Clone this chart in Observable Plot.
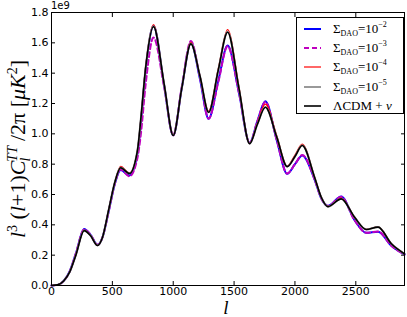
<!DOCTYPE html>
<html><head><meta charset="utf-8">
<script src="https://cdn.jsdelivr.net/npm/d3@7"></script>
<script src="https://cdn.jsdelivr.net/npm/@observablehq/plot@0.6"></script>
<style>
body{margin:0;background:#fff;}
#wrap{position:relative;width:407px;height:317px;overflow:hidden;background:#fff;}
.math{font-family:"Liberation Serif",serif;color:#000;white-space:nowrap;}
.legend{position:absolute;left:296px;top:17px;width:108px;height:97px;border:1px solid #000;background:#fff;box-sizing:border-box;}
.entry{position:absolute;left:0;height:18px;width:106px;}
.entry svg{position:absolute;left:7px;top:0;}
.entry .lab{position:absolute;left:36px;top:1px;font-size:13px;line-height:16px;}
.sb{font-size:8px;position:relative;top:3px;}
.sp{font-size:8px;position:relative;top:-6px;}
.ylab{position:absolute;left:-112px;top:138px;width:260px;height:22px;text-align:center;transform:rotate(-90deg);font-size:22px;line-height:22px;}
.ylab sup,.ylab sub{font-size:14px;line-height:0;}
.xlab{position:absolute;left:216px;top:301px;width:20px;height:14px;text-align:center;font-size:19px;line-height:14px;font-style:italic;}
.off{position:absolute;left:51px;top:0px;font-family:"DejaVu Sans",sans-serif;font-size:10px;}
</style></head><body><div id="wrap"></div>
<script>
// multipole knots
const ell = [0, 50, 100, 150, 200, 268, 320, 378, 420, 470, 520, 568, 640, 706, 733, 774, 838, 925, 1000, 1070, 1145, 1220, 1291, 1370, 1447, 1540, 1628, 1690, 1757, 1850, 1936, 2000, 2060, 2161, 2216, 2271, 2380, 2490, 2586, 2683, 2792, 2900];
// values in units of 1e9
const sigmaE2 = [0, 0.004, 0.03, 0.095, 0.21, 0.372, 0.335, 0.268, 0.32, 0.49, 0.67, 0.762, 0.726, 0.87, 1.06, 1.42, 1.712, 1.32, 0.99, 1.30, 1.600, 1.36, 1.099, 1.35, 1.582, 1.27, 0.94, 1.08, 1.215, 0.96, 0.736, 0.80, 0.857, 0.70, 0.575, 0.525, 0.587, 0.43, 0.347, 0.355, 0.262, 0.205];
const sigmaE3 = [0, 0.004, 0.03, 0.093, 0.21, 0.37, 0.335, 0.268, 0.32, 0.49, 0.67, 0.765, 0.72, 0.84, 0.99, 1.33, 1.635, 1.31, 0.99, 1.31, 1.612, 1.37, 1.10, 1.34, 1.578, 1.27, 0.94, 1.08, 1.21, 0.96, 0.738, 0.80, 0.86, 0.70, 0.575, 0.525, 0.585, 0.43, 0.348, 0.356, 0.262, 0.205];
const sigmaE4 = [0, 0.004, 0.03, 0.09, 0.205, 0.366, 0.332, 0.265, 0.32, 0.50, 0.68, 0.785, 0.742, 0.89, 1.09, 1.45, 1.72, 1.33, 0.992, 1.30, 1.603, 1.38, 1.15, 1.43, 1.687, 1.31, 0.936, 1.07, 1.196, 0.99, 0.788, 0.86, 0.932, 0.716, 0.583, 0.52, 0.576, 0.45, 0.37, 0.386, 0.276, 0.21];
const sigmaE5 = [0, 0.004, 0.03, 0.09, 0.20, 0.363, 0.33, 0.264, 0.32, 0.50, 0.68, 0.778, 0.739, 0.89, 1.09, 1.44, 1.71, 1.33, 0.99, 1.30, 1.595, 1.38, 1.143, 1.42, 1.673, 1.30, 0.935, 1.06, 1.177, 0.98, 0.785, 0.85, 0.925, 0.714, 0.582, 0.52, 0.572, 0.45, 0.369, 0.385, 0.275, 0.209];
const lcdmNu = [0, 0.004, 0.03, 0.09, 0.20, 0.362, 0.33, 0.264, 0.32, 0.50, 0.68, 0.776, 0.738, 0.89, 1.09, 1.44, 1.707, 1.33, 0.989, 1.30, 1.593, 1.38, 1.142, 1.42, 1.67, 1.30, 0.935, 1.06, 1.175, 0.98, 0.784, 0.85, 0.923, 0.714, 0.582, 0.52, 0.571, 0.45, 0.369, 0.385, 0.275, 0.209];
const xTicks = [0, 500, 1000, 1500, 2000, 2500];
const yTicks = [0, 0.2, 0.4, 0.6, 0.8, 1.0, 1.2, 1.4, 1.6, 1.8];
const legendLabels = [
  'Σ<span class="sb">DAO</span>=10<span class="sp">−2</span>',
  'Σ<span class="sb">DAO</span>=10<span class="sp">−3</span>',
  'Σ<span class="sb">DAO</span>=10<span class="sp">−4</span>',
  'Σ<span class="sb">DAO</span>=10<span class="sp">−5</span>',
  'ΛCDM + <i>ν</i>'
];

const series = [
  {values: sigmaE2, color: "#0000ff", width: 2, dash: null},
  {values: sigmaE3, color: "#bf00bf", width: 2, dash: "5,3"},
  {values: sigmaE4, color: "#ff0000", width: 1.2, dash: null},
  {values: sigmaE5, color: "#999999", width: 2, dash: null},
  {values: lcdmNu, color: "#000000", width: 1.6, dash: null}
];

const chart = Plot.plot({
  width: 407, height: 317,
  marginLeft: 51, marginRight: 3, marginTop: 12, marginBottom: 32,
  style: {fontFamily: "DejaVu Sans, sans-serif", fontSize: "11px", color: "#000", background: "#fff"},
  x: {domain: [0, 2900], label: null},
  y: {domain: [0, 1.8], label: null},
  marks: [
    ...series.map(s => Plot.line(ell, {x: d => d, y: (d, i) => s.values[i], stroke: s.color, strokeWidth: s.width, strokeDasharray: s.dash, curve: "monotone-x"})),
    Plot.axisX({ticks: xTicks, tickSize: -4, tickPadding: 6, tickFormat: d => String(d), label: null, fontSize: 11}),
    Plot.axisX({anchor: "top", ticks: xTicks, tickSize: -4, tickFormat: () => "", label: null}),
    Plot.axisY({ticks: yTicks, tickSize: -4, tickPadding: 7, tickFormat: d => d.toFixed(1), label: null, fontSize: 11}),
    Plot.axisY({anchor: "right", ticks: yTicks, tickSize: -4, tickFormat: () => "", label: null}),
    Plot.frame({stroke: "#000", strokeWidth: 1})
  ]
});

const wrap = document.getElementById("wrap");
wrap.appendChild(chart);

const off = document.createElement("div");
off.className = "off"; off.textContent = "1e9";
wrap.appendChild(off);

const ylab = document.createElement("div");
ylab.className = "ylab math";
ylab.innerHTML = '<i>l</i><sup>3</sup> (<i>l</i>+1)<i>C</i><sub style="position:relative;left:-1px"><i>l</i></sub><sup style="position:relative;left:-5px"><i>TT</i></sup>/2π [<i>μK</i><sup>2</sup>]';
wrap.appendChild(ylab);

const xlab = document.createElement("div");
xlab.className = "xlab math"; xlab.textContent = "l";
wrap.appendChild(xlab);

const leg = document.createElement("div");
leg.className = "legend";
series.forEach((s, i) => {
  const e = document.createElement("div");
  e.className = "entry";
  e.style.top = (2 + i * 19.2) + "px";
  e.innerHTML = `<svg width="20" height="18"><line x1="0" x2="17" y1="9" y2="9" stroke="${s.color}" stroke-width="${s.width}" ${s.dash ? `stroke-dasharray="${s.dash}"` : ""}/></svg><span class="lab math">${legendLabels[i]}</span>`;
  leg.appendChild(e);
});
wrap.appendChild(leg);
</script></body></html>
